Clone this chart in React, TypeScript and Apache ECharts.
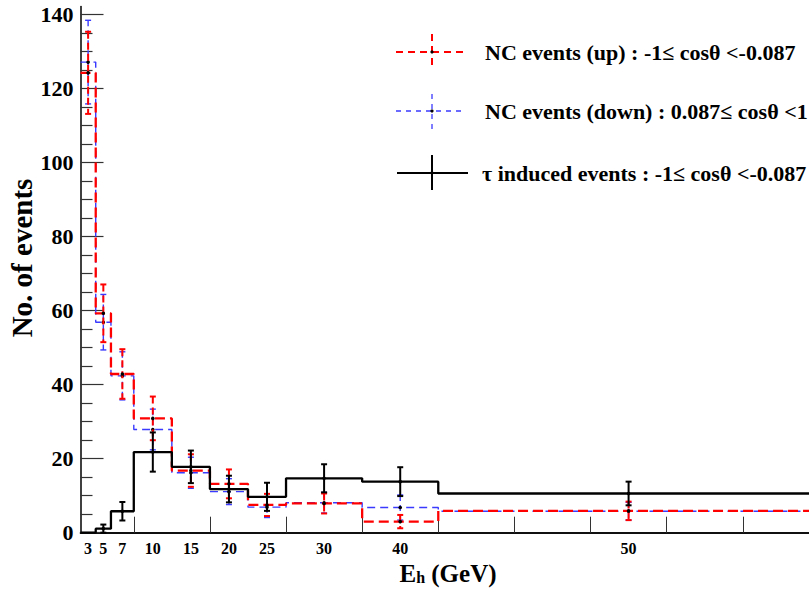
import React, { useEffect, useRef } from "react";
import * as echarts from "echarts";

// Bin edges in E_h (GeV)
const binEdges = [3, 5, 7, 10, 15, 20, 25, 30, 40, 50, 100];
const xTickLabels = ["3", "5", "7", "10", "15", "20", "25", "30", "40", "50"];
const xMajorTicks = [10, 20, 30, 40, 50, 60, 70, 80, 90];
const yMajorTicks = [0, 20, 40, 60, 80, 100, 120, 140];
const yMinorTicks = [5, 10, 15, 25, 30, 35, 45, 50, 55, 65, 70, 75, 85, 90, 95, 105, 110, 115, 125, 130, 135];

// NC events (up)
const ncUp = [124.3, 59.3, 42.9, 30.9, 16.8, 13.2, 7.5, 7.9, 3.0, 5.9];
const ncUpErr = [11.1, 7.8, 6.7, 5.9, 4.4, 3.9, 3.0, 2.7, 1.8, 2.5];
// NC events (down)
const ncDown = [127.2, 56.9, 42.4, 27.9, 16.2, 11.1, 6.9, 8.1, 6.8, 5.8];
const ncDownErr = [11.3, 7.5, 6.5, 5.5, 4.2, 3.5, 2.8, 2.8, 3.4, 2.4];
// tau induced events
const tau = [0, 1.1, 5.8, 21.8, 17.8, 11.8, 9.7, 14.7, 13.8, 10.6];
const tauErr = [0, 1.1, 2.5, 5.3, 4.4, 3.6, 3.8, 3.8, 3.9, 3.2];

const FONT = "Liberation Serif";

const centers = binEdges.slice(0, -1).map((e, i) => (e + binEdges[i + 1]) / 2);

function stepData(vals: number[]) {
  const d: number[][] = vals.map((v, i) => [binEdges[i], v]);
  d.push([binEdges[binEdges.length - 1], vals[vals.length - 1]]);
  return d;
}

function histSeries(name: string, vals: number[], color: string, width: number, dash: any, z: number) {
  return {
    name,
    type: "line",
    step: "end",
    data: stepData(vals),
    symbol: "none",
    lineStyle: { color, width, type: dash },
    z,
    silent: true,
  };
}

function errSeries(name: string, vals: number[], errs: number[], color: string, width: number, dash: any, z: number) {
  return {
    name: name + "_err",
    type: "custom",
    z,
    silent: true,
    data: centers.map((c, i) => [c, vals[i], errs[i]]),
    encode: { x: 0, y: 1 },
    renderItem: (_params: any, api: any) => {
      const x = api.value(0);
      const y = api.value(1);
      const e = api.value(2);
      if (!(e > 0)) return null;
      const top = api.coord([x, y + e]);
      const bot = api.coord([x, y - e]);
      const c = api.coord([x, y]);
      const cap = 3;
      return {
        type: "group",
        children: [
          { type: "line", shape: { x1: top[0], y1: top[1], x2: bot[0], y2: bot[1] }, style: { stroke: color, lineWidth: width, lineDash: dash } },
          { type: "line", shape: { x1: top[0] - cap, y1: top[1], x2: top[0] + cap, y2: top[1] }, style: { stroke: color, lineWidth: width } },
          { type: "line", shape: { x1: bot[0] - cap, y1: bot[1], x2: bot[0] + cap, y2: bot[1] }, style: { stroke: color, lineWidth: width } },
          { type: "circle", shape: { cx: c[0], cy: c[1], r: 1.8 }, style: { fill: "#000" } },
        ],
      };
    },
  };
}

const legendItems = [
  { text: "NC events (up) : -1≤ cosθ <-0.087", color: "#ff0000", width: 2, dash: [7, 5], y: 52, v1: 34, v2: 70, x1: 396, x2: 463, tx: 485 },
  { text: "NC events (down) : 0.087≤ cosθ <1", color: "#3a3aff", width: 1.3, dash: [5, 5], y: 111, v1: 94, v2: 130, x1: 396, x2: 463, tx: 485 },
  { text: "τ induced events : -1≤ cosθ <-0.087", color: "#000000", width: 2, dash: null, y: 173, v1: 155, v2: 190, x1: 397, x2: 468, tx: 482 },
];

export default function App() {
  const ref = useRef<HTMLDivElement>(null);
  useEffect(() => {
    if (!ref.current) return;
    const chart = echarts.init(ref.current, null, { renderer: "svg" });
    const graphic: any[] = [];
    legendItems.forEach((it) => {
      const st: any = { stroke: it.color, lineWidth: it.width };
      if (it.dash) st.lineDash = it.dash;
      graphic.push({ type: "line", shape: { x1: it.x1, y1: it.y, x2: it.x2, y2: it.y }, style: st });
      graphic.push({ type: "line", shape: { x1: 432, y1: it.v1, x2: 432, y2: it.v2 }, style: st });
      graphic.push({ type: "circle", shape: { cx: 432, cy: it.y, r: 1.6 }, style: { fill: "#000" } });
      graphic.push({
        type: "text",
        x: it.tx,
        y: it.y,
        style: { text: it.text, fill: "#000", fontFamily: FONT, fontWeight: "bold", fontSize: 22, textAlign: "left", textVerticalAlign: "middle" },
      });
    });
    graphic.push({
      type: "text",
      x: 22,
      y: 258,
      rotation: Math.PI / 2,
      style: { text: "No. of events", fill: "#000", fontFamily: FONT, fontWeight: "bold", fontSize: 29, textAlign: "center", textVerticalAlign: "middle" },
    });
    graphic.push({
      type: "text",
      x: 448,
      y: 573,
      style: {
        text: "{e|E}{h|h}{e| (GeV)}",
        textAlign: "center",
        textVerticalAlign: "middle",
        rich: {
          e: { fontFamily: FONT, fontWeight: "bold", fontSize: 25, fill: "#000", color: "#000", verticalAlign: "bottom" },
          h: { fontFamily: FONT, fontWeight: "bold", fontSize: 16, fill: "#000", color: "#000", padding: [9, 0, 0, 0] },
        },
      },
    });

    chart.setOption({
      animation: false,
      backgroundColor: "#fff",
      grid: { left: 80.5, right: 0, top: 6.6, bottom: 59.3, show: false, containLabel: false },
      xAxis: [
        {
          type: "value",
          min: 3,
          max: 98.7,
          position: "bottom",
          axisLine: { show: true, lineStyle: { color: "#000", width: 1.5 } },
          axisTick: { show: true, inside: true, length: 16, customValues: xMajorTicks, lineStyle: { color: "#333", width: 1 } },
          axisLabel: {
            show: true,
            customValues: centers,
            formatter: (v: number) => {
              const i = centers.findIndex((c) => Math.abs(c - v) < 1e-6);
              return i >= 0 ? xTickLabels[i] : "";
            },
            fontFamily: FONT,
            fontWeight: "bold",
            fontSize: 16,
            color: "#000",
            margin: 8,
          },
          splitLine: { show: false },
        },
        {
          type: "value",
          min: 3,
          max: 98.7,
          position: "top",
          axisLine: { show: true, lineStyle: { color: "#000", width: 1.5 } },
          axisTick: { show: false },
          axisLabel: { show: false },
          splitLine: { show: false },
        },
      ],
      yAxis: [
        {
          type: "value",
          min: 0,
          max: 142.2,
          position: "left",
          axisLine: { show: true, lineStyle: { color: "#000", width: 1.5 } },
          axisTick: { show: true, inside: true, length: 23, customValues: yMajorTicks, lineStyle: { color: "#333", width: 1.2 } },
          axisLabel: { show: true, customValues: yMajorTicks, fontFamily: FONT, fontWeight: "bold", fontSize: 22, color: "#000", margin: 7 },
          splitLine: { show: false },
        },
        {
          type: "value",
          min: 0,
          max: 142.2,
          position: "left",
          axisLine: { show: false },
          axisTick: { show: true, inside: true, length: 12, customValues: yMinorTicks, lineStyle: { color: "#333", width: 1.2 } },
          axisLabel: { show: false },
          splitLine: { show: false },
        },
      ],
      graphic,
      series: [
        histSeries("NC down", ncDown, "#3a3aff", 1.4, [8, 5], 2),
        errSeries("NC down", ncDown, ncDownErr, "#3a3aff", 1.4, [6, 4], 3),
        histSeries("NC up", ncUp, "#ff0000", 2.3, [10, 5], 4),
        errSeries("NC up", ncUp, ncUpErr, "#ff0000", 2, [7, 4], 5),
        histSeries("tau", tau, "#000000", 2.3, "solid", 6),
        errSeries("tau", tau, tauErr, "#000000", 2, null, 7),
      ],
    });
    return () => chart.dispose();
  }, []);
  return <div ref={ref} style={{ position: "fixed", left: 0, top: 0, width: 809, height: 592 }} />;
}
